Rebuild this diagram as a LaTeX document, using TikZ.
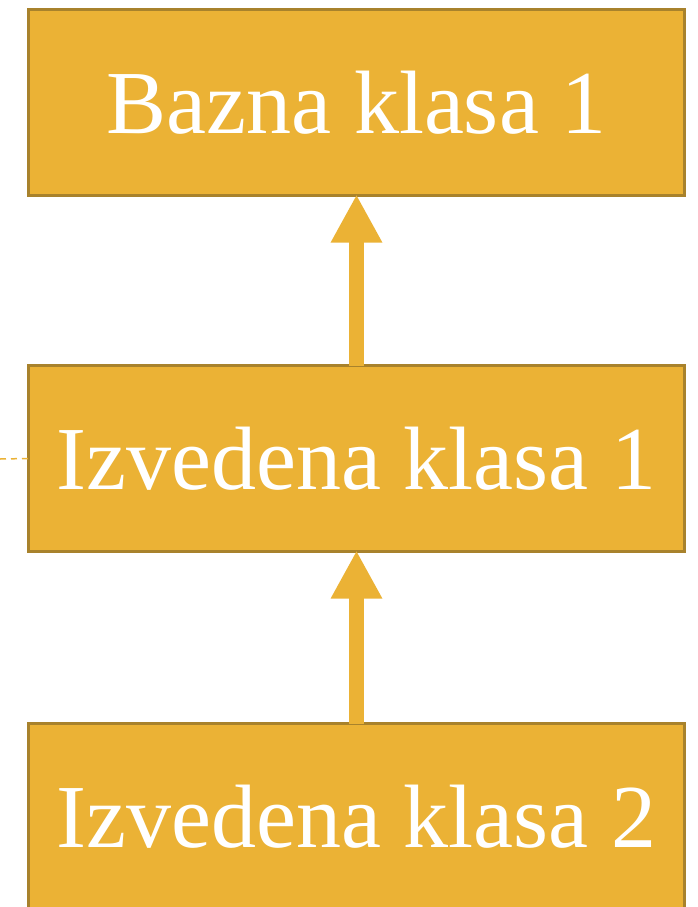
\documentclass[tikz,border=0pt]{standalone}
\usepackage{fontspec}
\setmainfont{Liberation Serif}
\usetikzlibrary{arrows.meta}
\definecolor{boxfill}{HTML}{EBB235}
\definecolor{boxline}{HTML}{A8822C}
\begin{document}
\begin{tikzpicture}[x=1pt,y=-1pt,
  klasa/.style={draw=boxline, fill=boxfill, line width=3pt, rectangle,
    minimum width=656pt, minimum height=186pt, inner sep=0pt, outer sep=0pt,
    text=white, font=\fontsize{90}{100}\selectfont},
  nasl/.style={draw=boxfill, line width=15pt,
    -{Triangle[width=48pt,length=48pt]}, shorten >=-1pt}
]
\clip (0,0) rectangle (698,907);
\node[klasa] (b1) at (356.5,102.5) {Bazna klasa 1};
\node[klasa] (i1) at (356.5,458.5) {Izvedena klasa 1};
\node[klasa] (i2) at (356.5,816.5) {Izvedena klasa 2};
\coordinate (l) at (0,459);
\draw[boxfill, line width=1.5pt, dash pattern=on 6pt off 5pt] (l) -- (i1.west);
\draw[nasl] (i1.north) -- (b1.south);
\draw[nasl] (i2.north) -- (i1.south);
\end{tikzpicture}
\end{document}
